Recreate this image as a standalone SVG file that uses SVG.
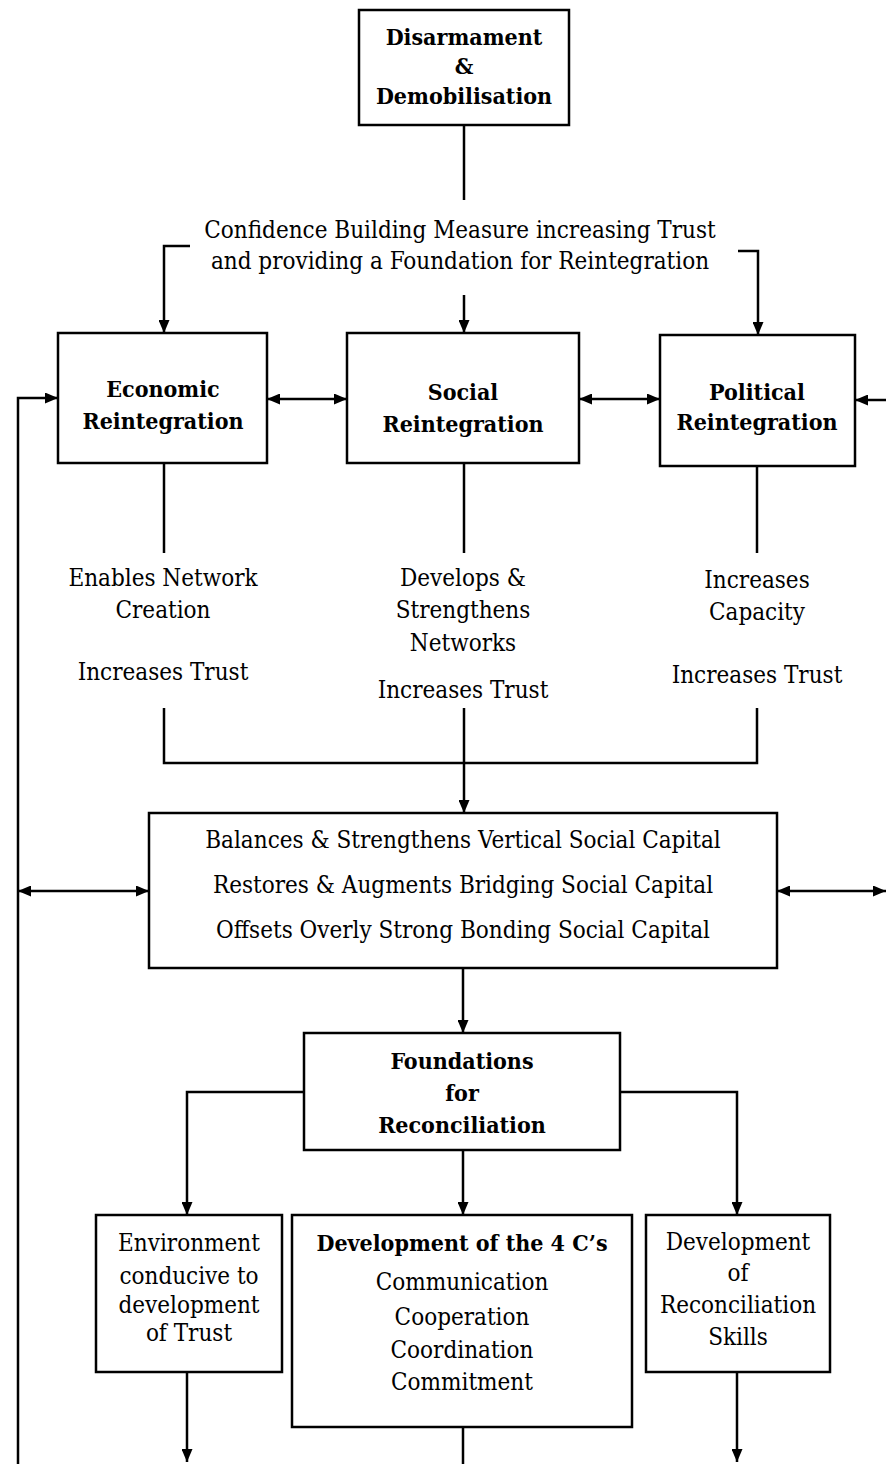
<svg xmlns="http://www.w3.org/2000/svg" width="886" height="1464" viewBox="0 0 886 1464">
  <style>
    .box { fill: #fff; stroke: #000; stroke-width: 2.5; }
    .ln { fill: none; stroke: #000; stroke-width: 2.5; }
    text { font-family: "DejaVu Serif Condensed", "DejaVu Serif", "Liberation Serif", serif; font-size: 24px; fill: #000; text-anchor: middle; }
    .b { font-weight: bold; font-size: 23px; }
  </style>
  <defs>
    <marker id="ah" viewBox="0 0 13 11" refX="13" refY="5.5" markerWidth="13" markerHeight="11" markerUnits="userSpaceOnUse" orient="auto-start-reverse">
      <path d="M0,0 L13,5.5 L0,11 Z" fill="#000"/>
    </marker>
  </defs>
  <rect width="886" height="1464" fill="#fff"/>

  <g id="connectors">
    <!-- top box to the trust statement -->
    <path class="ln" d="M464,125 V200"/>
    <!-- brackets to the three reintegration boxes -->
    <path class="ln" d="M190,246 H164 V333" marker-end="url(#ah)"/>
    <path class="ln" d="M464,295 V333" marker-end="url(#ah)"/>
    <path class="ln" d="M738,251 H758 V335" marker-end="url(#ah)"/>
    <!-- links between reintegration boxes -->
    <path class="ln" d="M267,399 H347" marker-start="url(#ah)" marker-end="url(#ah)"/>
    <path class="ln" d="M579,399 H660" marker-start="url(#ah)" marker-end="url(#ah)"/>
    <path class="ln" d="M886,400 H855" marker-end="url(#ah)"/>
    <!-- left feedback loop -->
    <path class="ln" d="M18,1464 V398 H58" marker-end="url(#ah)"/>
    <!-- stems below the reintegration boxes -->
    <path class="ln" d="M164,463 V553"/>
    <path class="ln" d="M464,463 V553"/>
    <path class="ln" d="M757,466 V553"/>
    <!-- gathering into social capital box -->
    <path class="ln" d="M164,708 V763 H757 V708"/>
    <path class="ln" d="M464,708 V813" marker-end="url(#ah)"/>
    <!-- side links of social capital box -->
    <path class="ln" d="M18,891 H149" marker-start="url(#ah)" marker-end="url(#ah)"/>
    <path class="ln" d="M777,891 H886" marker-start="url(#ah)" marker-end="url(#ah)"/>
    <!-- to foundations -->
    <path class="ln" d="M463,968 V1033" marker-end="url(#ah)"/>
    <!-- foundations to the three outcomes -->
    <path class="ln" d="M304,1092 H187 V1215" marker-end="url(#ah)"/>
    <path class="ln" d="M463,1150 V1215" marker-end="url(#ah)"/>
    <path class="ln" d="M620,1092 H737 V1215" marker-end="url(#ah)"/>
    <!-- outgoing lines at the bottom -->
    <path class="ln" d="M187,1372 V1462" marker-end="url(#ah)"/>
    <path class="ln" d="M463,1427 V1464"/>
    <path class="ln" d="M737,1372 V1462" marker-end="url(#ah)"/>
  </g>

  <g id="disarmament">
    <rect class="box" x="359" y="10" width="210" height="115"/>
    <text class="b" x="464" y="45">Disarmament</text>
    <text class="b" x="464" y="74">&amp;</text>
    <text class="b" x="464" y="104">Demobilisation</text>
  </g>

  <g id="trust-statement">
    <text x="460" y="238">Confidence Building Measure increasing Trust</text>
    <text x="460" y="269">and providing a Foundation for Reintegration</text>
  </g>

  <g id="economic">
    <rect class="box" x="58" y="333" width="209" height="130"/>
    <text class="b" x="163" y="397">Economic</text>
    <text class="b" x="163" y="429">Reintegration</text>
  </g>

  <g id="social">
    <rect class="box" x="347" y="333" width="232" height="130"/>
    <text class="b" x="463" y="400">Social</text>
    <text class="b" x="463" y="432">Reintegration</text>
  </g>

  <g id="political">
    <rect class="box" x="660" y="335" width="195" height="131"/>
    <text class="b" x="757" y="400">Political</text>
    <text class="b" x="757" y="430">Reintegration</text>
  </g>

  <g id="economic-effects">
    <text x="163" y="586">Enables Network</text>
    <text x="163" y="618">Creation</text>
    <text x="163" y="680">Increases Trust</text>
  </g>

  <g id="social-effects">
    <text x="463" y="586">Develops &amp;</text>
    <text x="463" y="618">Strengthens</text>
    <text x="463" y="651">Networks</text>
    <text x="463" y="698">Increases Trust</text>
  </g>

  <g id="political-effects">
    <text x="757" y="588">Increases</text>
    <text x="757" y="620">Capacity</text>
    <text x="757" y="683">Increases Trust</text>
  </g>

  <g id="social-capital">
    <rect class="box" x="149" y="813" width="628" height="155"/>
    <text x="463" y="848">Balances &amp; Strengthens Vertical Social Capital</text>
    <text x="463" y="893">Restores &amp; Augments Bridging Social Capital</text>
    <text x="463" y="938">Offsets Overly Strong Bonding Social Capital</text>
  </g>

  <g id="foundations">
    <rect class="box" x="304" y="1033" width="316" height="117"/>
    <text class="b" x="462" y="1069">Foundations</text>
    <text class="b" x="462" y="1101">for</text>
    <text class="b" x="462" y="1133">Reconciliation</text>
  </g>

  <g id="trust-environment">
    <rect class="box" x="96" y="1215" width="186" height="157"/>
    <text x="189" y="1251">Environment</text>
    <text x="189" y="1284">conducive to</text>
    <text x="189" y="1313">development</text>
    <text x="189" y="1341">of Trust</text>
  </g>

  <g id="four-cs">
    <rect class="box" x="292" y="1215" width="340" height="212"/>
    <text class="b" x="462" y="1251">Development of the 4 C’s</text>
    <text x="462" y="1290">Communication</text>
    <text x="462" y="1325">Cooperation</text>
    <text x="462" y="1358">Coordination</text>
    <text x="462" y="1390">Commitment</text>
  </g>

  <g id="reconciliation-skills">
    <rect class="box" x="646" y="1215" width="184" height="157"/>
    <text x="738" y="1250">Development</text>
    <text x="738" y="1281">of</text>
    <text x="738" y="1313">Reconciliation</text>
    <text x="738" y="1345">Skills</text>
  </g>
</svg>
